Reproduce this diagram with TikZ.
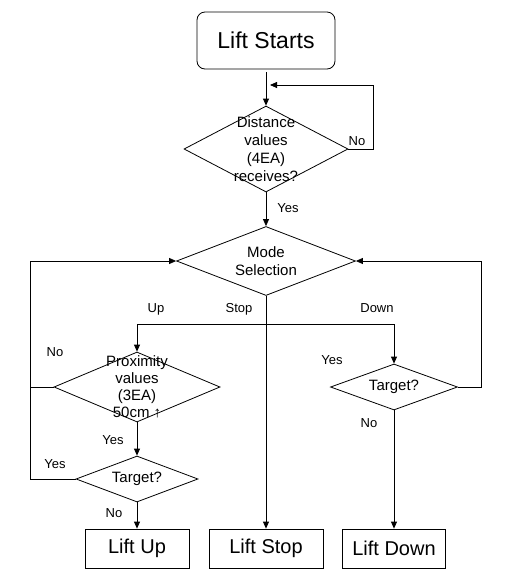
\documentclass[tikz,border=0pt]{standalone}
\usepackage{fontspec}
\setmainfont{Liberation Sans}
\usetikzlibrary{shapes.geometric,arrows.meta}

\begin{document}
\begin{tikzpicture}[
    x=1pt,y=-1pt,
    line width=0.8pt,
    startbox/.style={draw,rounded corners=8pt,minimum width=138pt,minimum height=57pt,inner sep=0pt,font=\fontsize{23}{27}\selectfont},
    endbox/.style={draw,minimum height=39pt,inner sep=0pt,font=\fontsize{20}{24}\selectfont},
    decision/.style={draw,diamond,inner sep=0pt},
    dtext/.style={align=center,font=\fontsize{15}{18}\selectfont},
    lbl/.style={font=\fontsize{13}{15}\selectfont},
    flow/.style={-{Triangle[length=7pt,width=6pt]}}
    ]
    \useasboundingbox (0,0) rectangle (516,574);
    \node[startbox] (start) at (266,40.5) {Lift Starts};
    \node[decision,minimum width=164pt,minimum height=86pt] (dist) at (266,149) {};
    \node[dtext] at (dist) {Distance\\values\\(4EA)\\receives?};
    \node[decision,minimum width=179pt,minimum height=69pt] (mode) at (266,261) {};
    \node[dtext] at (mode) {Mode\\Selection};
    \node[decision,minimum width=166pt,minimum height=70pt] (prox) at (137,387) {};
    \node[dtext,font=\fontsize{15}{17}\selectfont] at (prox) {Proximity\\values\\(3EA)\\50cm ↑};
    \node[decision,minimum width=122pt,minimum height=46pt] (tup) at (137,479) {};
    \node[dtext] at (tup) {Target?};
    \node[decision,minimum width=127pt,minimum height=46pt] (tdown) at (394,387) {};
    \node[dtext] at (tdown) {Target?};
    \node[endbox,minimum width=104pt] (up) at (137,548.5) {Lift Up};
    \node[endbox,minimum width=114pt] (stop) at (266,548.5) {Lift Stop};
    \node[endbox,minimum width=103pt] (down) at (394,548.5) {Lift Down};
    \coordinate (back) at (270,85);
    \coordinate (split) at (266,324);
    \coordinate (lbus) at (30,479);
    \coordinate (rbus) at (481,387);
    \draw[flow,shorten <=3pt] (start) -- (dist);
    \draw[flow] (dist.east) -- ++(25,0) |- (back);
    \draw[flow] (dist) -- (mode);
    \draw[flow] (mode) -- (stop);
    \draw[flow] (split) -| (prox.north);
    \draw[flow] (split) -| (tdown.north);
    \draw[flow] (prox) -- (tup);
    \draw[flow] (tup) -- (up);
    \draw[flow] (tdown) -- (down);
    \draw[flow] (tup.west) -- (lbus) |- (mode.west);
    \draw (prox.west) -- (prox.west -| lbus);
    \draw[flow] (tdown.east) -- (rbus) |- (mode.east);
    \node[lbl] at (357,141) {No};
    \node[lbl] at (288,208) {Yes};
    \node[lbl] at (156,309) {Up};
    \node[lbl] at (239,309) {Stop};
    \node[lbl] at (377,308) {Down};
    \node[lbl] at (55,352) {No};
    \node[lbl] at (113,440) {Yes};
    \node[lbl] at (55,464) {Yes};
    \node[lbl] at (114,513) {No};
    \node[lbl] at (332,360) {Yes};
    \node[lbl] at (369,423) {No};
\end{tikzpicture}
\end{document}
